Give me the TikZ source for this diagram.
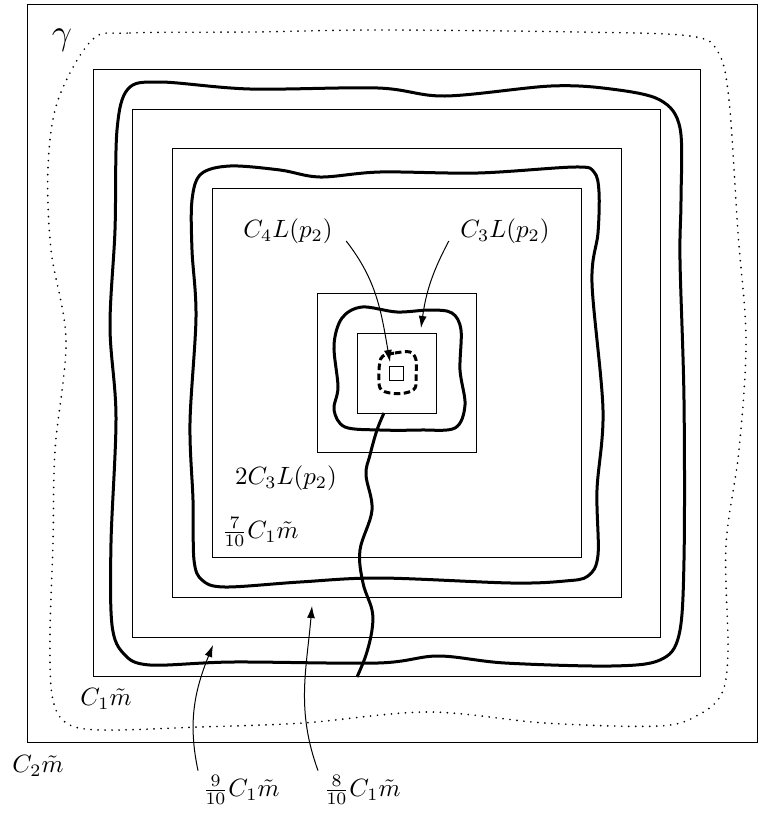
\documentclass[tikz,border=0pt]{standalone}
\usetikzlibrary{arrows.meta}
\begin{document}
\begin{tikzpicture}[x=0.4pt,y=-0.4pt,
  box/.style={line width=0.4pt},
  wave/.style={line width=1.2pt, line join=round},
  dotline/.style={line width=0.75pt, line cap=round, dash pattern=on 0pt off 2.8pt},
  dashwave/.style={line width=1.2pt, dash pattern=on 2.6pt off 1.4pt},
  arr/.style={-{Latex[length=4.8pt,width=3.2pt]}, line width=0.4pt},
  lab/.style={inner sep=0pt}]
\useasboundingbox (0,0) rectangle (758,814);
% squares
\coordinate (c) at (396.7,373.3);
\draw[box] (27,4) rectangle (757,742);
\draw[box] ([shift={(-303.5,-303.5)}]c) rectangle ([shift={(303.5,303.5)}]c);
\draw[box] ([shift={(-264,-264)}]c) rectangle ([shift={(264,264)}]c);
\draw[box] ([shift={(-224.5,-224.5)}]c) rectangle ([shift={(224.5,224.5)}]c);
\draw[box] ([shift={(-184.6,-184.6)}]c) rectangle ([shift={(184.6,184.6)}]c);
\draw[box] ([shift={(-79.5,-79.5)}]c) rectangle ([shift={(79.5,79.5)}]c);
\draw[box] ([shift={(-39.7,-39.7)}]c) rectangle ([shift={(39.7,39.7)}]c);
\draw[box] ([shift={(-7,-7)}]c) rectangle ([shift={(7,7)}]c);
% gamma (dotted)
\draw[dotline] plot[smooth cycle, tension=0.55] coordinates {
  (92,40) (130,33) (253,32) (378,30) (578,32) (690,36) (718,52)
  (729,100) (738,233) (746,340) (739,450) (726,545) (728,650)
  (722,693) (700,714) (660,726) (545,723) (428,712) (303,723)
  (200,727) (100,730) (65,722) (52,695) (50,633) (53,543) (55,450)
  (66,340) (51,250) (48,167) (58,100)};
% wave 1
\draw[wave] plot[smooth cycle, tension=0.55] coordinates {
  (128,89) (160,82) (250,89) (378,88) (445,96) (551,86) (611,89)
  (660,100) (680,128) (681,200) (680,260) (684,400) (684,560)
  (679,635) (660,660) (611,666) (505,663) (438,656) (378,663) (233,662)
  (150,665) (124,654) (112,625) (111,543) (116,417) (110,327) (115,230)
  (117,130)};
% wave 2
\draw[wave] plot[smooth cycle, tension=0.55] coordinates {
  (201,174) (230,166) (280,170) (320,177) (380,172) (478,173) (575,167)
  (594,172) (599,192) (598,233) (592,283) (603,410) (597,490) (598,555)
  (588,576) (565,581) (511,583) (380,578) (300,582) (225,587)
  (202,580) (194,560) (193,500) (190,423) (196,317) (192,250) (192,200)};
% wave 3
\draw[wave] plot[smooth cycle, tension=0.55] coordinates {
  (342,318) (362,307) (397,312) (430,310) (452,313) (461,330) (460,370)
  (465,405) (455,428) (420,430) (380,430) (345,427) (334,410) (338,387)
  (334,345)};
% dashed inner curve
\draw[dashwave] plot[smooth cycle, tension=0.6] coordinates {
  (383,356) (395,353) (410,352) (416,360) (416,375) (415,388) (405,393)
  (390,393) (380,388) (379,372) (380,362)};
% path
\draw[wave] plot[smooth, tension=0.6] coordinates {
  (384,413) (377,430) (370,455) (366,475) (372,510) (360,550) (363,583)
  (372,610) (372,630) (366,655) (357,677)};
% labels
\node[lab] (gam) at (62,40) {\Large$\gamma$};
\node[lab] (c4l) at (288,231) {$C_4L(p_2)$};
\node[lab] (c3l) at (505,231) {$C_3L(p_2)$};
\node[lab] (c3l2) at (286,478) {$2C_3L(p_2)$};
\node[lab] (n7) at (260,532) {$\frac{7}{10}C_1\tilde{m}$};
\node[lab] (c1m) at (106,699) {$C_1\tilde{m}$};
\node[lab] (c2m) at (38,766) {$C_2\tilde{m}$};
\node[lab] (n9) at (241,790) {$\frac{9}{10}C_1\tilde{m}$};
\node[lab] (n8) at (362,790) {$\frac{8}{10}C_1\tilde{m}$};
% arrow tips
\coordinate (t4) at (390,362);
\coordinate (t3) at (421,328);
\coordinate (t9) at (213,645);
\coordinate (t8) at (312,606);
\draw[arr] ([shift={(13,-3)}]c4l.south east) to[out=-52,in=100] (t4);
\draw[arr] ([shift={(-11,-3)}]c3l.south west) to[out=-118,in=82] (t3);
\draw[arr] ([shift={(-4,-4)}]n9.north west) to[out=102,in=-112] (t9);
\draw[arr] ([shift={(-5,-4)}]n8.north west) to[out=110,in=-95] (t8);
\end{tikzpicture}
\end{document}
